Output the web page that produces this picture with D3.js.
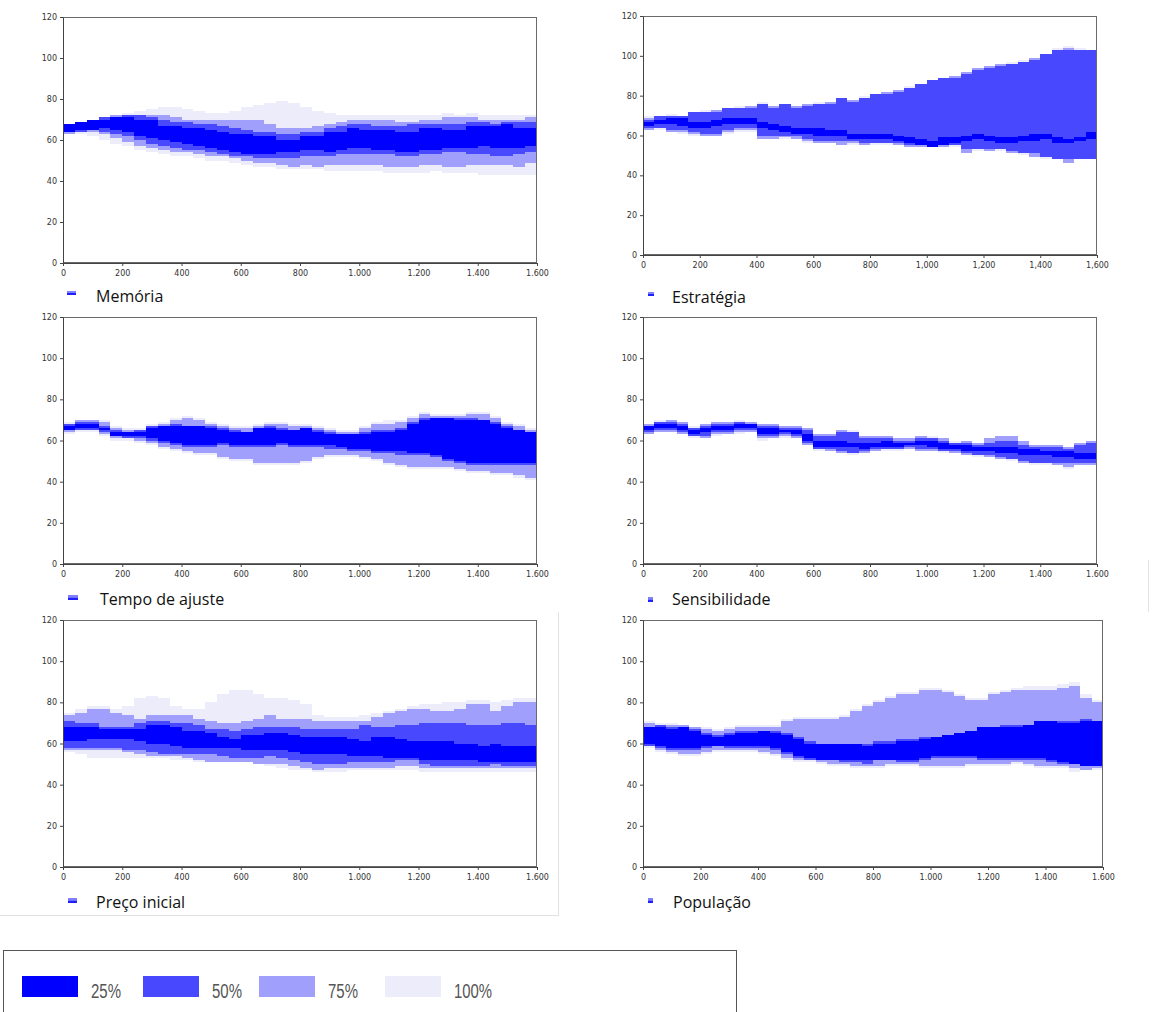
<!DOCTYPE html>
<html><head><meta charset="utf-8">
<script src="https://cdn.jsdelivr.net/npm/d3@7"></script>
<style>body{margin:0;background:#fff}svg{display:block}</style>
</head><body><svg id="c" width="1153" height="1012"></svg>
<script>
// ---------- DATA ----------
const time = [0,40,80,120,160,200,240,280,320,360,400,440,480,520,560,600,640,680,720,760,800,840,880,920,960,1000,1040,1080,1120,1160,1200,1240,1280,1320,1360,1400,1440,1480,1520,1560];
const timeEnd = 1600;
const xTickValues = [0,200,400,600,800,1000,1200,1400,1600];
const yTickValues = [0,20,40,60,80,100,120];
const bandLabels = ["25%","50%","75%","100%"];
const bandColors = ["#0000ff","#4848ff","#a0a0fc","#ececfb"];
const panelTitles = ["Memória","Estratégia","Tempo de ajuste","Sensibilidade","Preço inicial","População"];

// Memória
const mem_hi25 = [68,69,70,70,71,71,70,70,67,67,66,66,65,64,63,63,62,62,60,60,62,62,64,64,66,65,65,65,64,64,66,66,65,65,67,67,67,68,66,66];
const mem_lo25 = [64,65,65,66,65,64,62,61,60,59,58,57,56,55,54,53,53,53,54,54,55,55,54,55,56,56,55,55,54,54,55,55,56,56,56,57,56,56,56,57];
const mem_hi50 = [68,69,70,71,71,72,72,71,70,69,69,68,68,67,66,65,64,64,63,63,64,64,66,67,68,68,67,67,67,68,68,68,68,68,69,69,68,69,69,69];
const mem_lo50 = [64,64,65,64,63,62,60,58,57,56,55,55,54,53,52,52,51,51,51,51,52,52,52,53,53,53,53,53,52,52,53,53,54,54,53,53,52,52,53,54];
const mem_hi75 = [68,69,70,71,72,72,72,72,72,71,70,70,70,70,70,70,70,68,66,66,66,67,68,69,70,70,70,70,69,69,70,70,71,71,71,70,70,70,70,71];
const mem_lo75 = [63,64,64,63,61,59,57,56,55,54,54,53,52,52,51,50,49,49,48,47,48,47,48,48,48,48,48,47,47,47,48,48,47,47,48,48,48,48,47,49];
const mem_hi100 = [68,69,70,71,72,73,74,75,76,76,75,74,73,73,74,76,77,78,79,78,76,74,73,72,72,72,72,72,72,72,72,72,73,72,73,72,72,72,72,72];
const mem_lo100 = [63,63,62,60,58,57,55,54,53,52,52,51,50,50,49,48,47,47,46,46,46,46,45,45,45,45,45,44,44,44,44,45,44,44,44,43,43,43,43,43];

// Estratégia
const est_hi25 = [67,68,69,69,67,67,68,69,69,69,67,66,65,64,64,64,63,63,61,61,61,61,60,59,58,57,59,59,60,61,60,59,59,60,61,61,59,58,59,62];
const est_lo25 = [65,66,66,65,64,64,65,66,66,66,64,63,62,61,61,60,60,60,58,58,58,58,57,56,55,54,55,56,57,58,57,56,56,57,57,58,56,56,57,58];
const est_hi50 = [68,70,70,70,72,72,72,74,74,74,76,74,76,74,75,76,76,79,77,79,81,81,82,84,86,88,89,89,91,93,94,95,96,97,98,101,103,103,103,103];
const est_lo50 = [64,64,63,63,62,61,61,63,64,64,60,60,60,60,58,57,57,57,57,56,56,56,56,55,55,55,55,55,53,53,53,53,52,51,51,49,48,48,48,48];
const est_hi75 = [69,70,70,70,72,72,73,74,74,75,76,75,76,75,76,76,77,79,78,79,81,82,83,84,86,88,89,90,92,94,95,96,96,97,99,101,103,104,103,103];
const est_lo75 = [63,64,62,62,61,60,60,62,63,63,58,58,59,58,57,56,56,55,56,55,56,56,55,54,54,55,54,55,51,53,52,53,51,51,49,49,48,46,48,48];
const est_hi100 = [70,70,71,70,72,73,73,74,75,75,77,75,76,75,76,77,77,79,78,80,81,82,83,85,86,88,89,90,92,94,95,96,97,98,99,101,104,105,104,103];
const est_lo100 = [63,63,62,61,60,60,60,61,62,62,58,58,58,58,56,56,56,55,55,55,55,55,55,54,54,54,54,54,51,52,52,52,51,50,49,48,48,46,48,48];

// Tempo de ajuste
const tmp_hi25 = [67,68,68,66,64,64,64,66,67,67,67,67,66,65,64,64,66,66,65,65,66,64,63,63,63,63,64,64,65,68,70,71,71,70,70,70,68,66,65,64];
const tmp_lo25 = [65,66,66,65,62,62,62,61,60,59,58,58,58,59,58,58,58,58,59,58,58,58,58,57,56,56,55,55,55,54,54,53,51,50,49,49,49,49,49,49];
const tmp_hi50 = [68,69,69,67,65,64,65,67,67,68,67,67,67,66,65,64,66,67,66,65,66,65,64,63,63,64,65,65,66,69,71,71,71,71,71,70,69,67,65,64];
const tmp_lo50 = [65,65,65,64,62,61,61,60,59,58,57,57,57,58,57,57,57,57,58,57,57,57,56,56,55,55,54,54,53,53,53,52,50,49,48,48,48,48,48,48];
const tmp_hi75 = [68,70,70,69,66,65,65,67,68,70,71,70,68,67,66,66,67,68,68,67,67,66,65,64,64,66,68,68,69,71,73,72,72,72,73,73,71,68,67,65];
const tmp_lo75 = [64,65,65,63,61,61,60,59,57,56,55,54,54,52,51,51,49,49,49,49,50,52,53,53,53,52,51,49,48,47,47,47,47,46,45,45,44,44,43,42];
const tmp_hi100 = [69,70,70,70,67,66,66,68,69,71,72,71,69,68,67,67,68,69,69,68,68,67,66,65,65,67,69,70,70,72,74,73,73,73,74,74,72,69,68,66];
const tmp_lo100 = [63,64,64,62,60,60,59,58,56,55,54,53,53,51,50,50,48,48,48,48,49,51,52,52,52,51,50,48,47,46,46,46,46,45,44,44,43,43,42,41];

// Sensibilidade
const sen_hi25 = [67,68,68,67,65,66,67,67,68,68,66,66,65,65,63,60,60,60,59,59,59,60,59,59,60,60,59,58,58,57,57,57,57,56,56,55,55,55,54,54];
const sen_lo25 = [65,66,66,65,63,64,65,65,66,66,63,63,64,63,60,57,57,57,57,56,57,57,57,58,58,57,56,56,55,55,55,54,54,53,53,53,52,52,51,51];
const sen_hi50 = [67,69,69,68,66,67,68,68,69,68,67,67,66,66,65,62,62,64,64,61,61,61,60,60,61,61,60,59,59,58,59,60,60,58,57,57,57,56,58,59];
const sen_lo50 = [64,65,65,64,62,62,64,64,65,65,62,62,63,62,59,56,56,55,54,55,56,56,56,57,56,56,55,55,54,53,53,52,51,50,49,49,49,49,49,49];
const sen_hi75 = [68,69,70,69,66,68,69,69,69,69,68,68,67,67,66,63,63,65,64,62,62,62,61,61,62,61,61,59,60,59,61,62,62,60,58,58,58,57,59,60];
const sen_lo75 = [63,64,64,63,62,61,63,63,64,64,61,61,62,61,58,56,55,54,54,54,55,56,56,56,55,55,55,54,53,53,52,51,51,49,49,49,48,47,48,48];
const sen_hi100 = [68,70,70,69,67,68,69,69,70,69,68,68,67,67,66,63,63,65,65,62,62,62,61,61,62,62,61,60,60,59,61,62,62,60,58,58,58,57,59,60];
const sen_lo100 = [63,64,64,63,61,61,62,63,63,64,60,61,61,61,58,55,55,54,53,54,55,55,55,56,55,55,54,54,53,52,52,51,50,49,48,48,48,46,48,48];

// Preço inicial
const pre_hi25 = [68,68,68,67,67,67,67,69,69,68,66,66,65,63,62,64,64,65,65,64,63,63,63,63,62,61,63,63,62,61,61,61,61,60,60,59,60,59,59,59];
const pre_lo25 = [61,61,62,62,62,62,61,60,60,59,58,58,58,58,58,57,57,57,57,56,55,55,55,55,54,54,54,53,53,53,52,52,52,52,52,51,51,51,51,51];
const pre_hi50 = [71,70,70,68,68,68,70,71,71,70,70,69,67,67,66,67,68,68,68,68,67,67,67,67,67,69,68,68,69,69,70,70,70,70,69,69,69,70,70,69];
const pre_lo50 = [58,58,58,58,58,57,57,56,55,55,55,55,55,54,53,53,53,54,53,52,51,50,50,50,51,51,51,51,52,52,50,49,49,49,49,49,50,49,49,49];
const pre_hi75 = [74,75,77,77,75,74,72,74,74,74,74,72,71,70,70,71,72,74,72,72,72,71,71,71,71,71,73,75,76,77,77,76,76,77,79,79,76,78,80,80];
const pre_lo75 = [57,57,57,57,57,56,55,54,54,54,53,52,51,51,51,51,50,50,50,49,48,47,48,48,48,48,48,48,49,49,48,48,48,48,48,48,48,48,48,48];
const pre_hi100 = [75,77,78,78,77,78,82,83,82,78,77,77,80,84,86,86,84,82,82,81,79,74,73,73,73,74,75,76,77,78,79,79,80,80,81,81,80,81,82,82];
const pre_lo100 = [56,55,53,53,53,53,53,53,53,52,52,51,51,51,51,51,50,49,48,47,47,46,46,46,47,47,47,47,47,47,46,46,46,46,46,46,46,46,46,46];

// População
const pop_hi25 = [68,68,67,68,66,64,63,64,65,65,66,65,64,62,60,60,60,60,60,59,60,60,61,61,62,63,64,65,66,68,68,68,68,69,71,71,70,70,71,71];
const pop_lo25 = [60,59,58,58,58,59,59,59,59,59,59,58,56,54,53,52,52,52,52,52,52,52,52,52,53,54,54,54,54,53,53,53,53,53,53,52,51,50,49,49];
const pop_hi50 = [68,69,68,68,67,65,64,65,66,66,66,66,65,63,61,60,60,60,60,60,61,61,62,62,63,63,64,65,66,68,68,69,69,69,71,71,71,71,72,71];
const pop_lo50 = [59,58,57,57,57,58,59,58,58,58,58,57,55,53,52,52,52,51,51,50,52,52,51,51,52,53,53,53,53,52,52,52,52,52,52,51,50,50,49,49];
const pop_hi75 = [70,69,69,69,68,67,66,67,68,68,68,68,71,72,72,72,72,73,76,78,80,82,84,84,86,86,85,83,81,81,84,85,86,86,86,86,87,88,82,80];
const pop_lo75 = [59,57,56,55,55,56,57,57,57,57,56,55,53,52,52,51,50,50,49,49,49,50,50,50,49,49,49,49,50,50,50,50,51,50,49,49,49,48,47,48];
const pop_hi100 = [71,70,70,69,68,68,67,68,69,69,69,69,72,73,73,73,73,74,77,79,81,83,85,85,87,87,86,84,82,82,85,86,87,88,88,88,89,90,84,81];
const pop_lo100 = [58,56,55,54,54,55,56,56,56,56,55,54,52,51,51,50,49,49,48,48,48,49,49,49,48,48,48,48,49,49,49,49,50,49,48,48,48,46,47,47];

// ---------- BUILD ----------
const panelData = [
  {hi:[mem_hi25,mem_hi50,mem_hi75,mem_hi100], lo:[mem_lo25,mem_lo50,mem_lo75,mem_lo100]},
  {hi:[est_hi25,est_hi50,est_hi75,est_hi100], lo:[est_lo25,est_lo50,est_lo75,est_lo100]},
  {hi:[tmp_hi25,tmp_hi50,tmp_hi75,tmp_hi100], lo:[tmp_lo25,tmp_lo50,tmp_lo75,tmp_lo100]},
  {hi:[sen_hi25,sen_hi50,sen_hi75,sen_hi100], lo:[sen_lo25,sen_lo50,sen_lo75,sen_lo100]},
  {hi:[pre_hi25,pre_hi50,pre_hi75,pre_hi100], lo:[pre_lo25,pre_lo50,pre_lo75,pre_lo100]},
  {hi:[pop_hi25,pop_hi50,pop_hi75,pop_hi100], lo:[pop_lo25,pop_lo50,pop_lo75,pop_lo100]}
];
// layout (pixel geometry)
const layout = [
  {x0:63, x1:537, yt:17, yb:263, sep:".", lx:96, ly:302, sx:67, sy:291, sw:9, sh:4},
  {x0:643, x1:1097, yt:16, yb:255, sep:",", lx:672, ly:303, sx:648, sy:292, sw:6, sh:4},
  {x0:63, x1:537, yt:317, yb:564, sep:".", lx:100, ly:605, sx:68, sy:595, sw:10, sh:5},
  {x0:643, x1:1097, yt:317, yb:564, sep:".", lx:672, ly:605, sx:648, sy:597, sw:5, sh:5},
  {x0:63, x1:537, yt:620, yb:867, sep:".", lx:96, ly:908, sx:68, sy:898, sw:9, sh:5},
  {x0:643, x1:1103, yt:620, yb:867, sep:".", lx:673, ly:908, sx:648, sy:898, sw:5, sh:5}
];

const svg = d3.select("#c");
svg.append("rect").attr("width",1153).attr("height",1012).attr("fill","#fff");

// faint screenshot separators
const sepG = svg.append("g").attr("stroke","#e2e2e2").attr("stroke-width",1);
sepG.append("line").attr("x1",558.5).attr("x2",558.5).attr("y1",612).attr("y2",916);
sepG.append("line").attr("x1",0).attr("x2",558).attr("y1",915.5).attr("y2",915.5);
sepG.append("line").attr("x1",1148.5).attr("x2",1148.5).attr("y1",560).attr("y2",612);

const dotFmt = d3.formatLocale({decimal:",", thousands:".", grouping:[3], currency:["",""]}).format(",");
const commaFmt = d3.format(",");

panelData.forEach((pd, pi) => {
  const L = layout[pi];
  const x = d3.scaleLinear().domain([0, timeEnd]).range([L.x0, L.x1]);
  const y = d3.scaleLinear().domain([0, 120]).range([L.yb, L.yt]);
  const g = svg.append("g");

  g.append("rect").attr("x",L.x0).attr("y",L.yt).attr("width",L.x1-L.x0).attr("height",L.yb-L.yt).attr("fill","#fff");

  const area = d3.area().curve(d3.curveStepAfter)
    .x(d => x(d.t)).y0(d => y(d.lo)).y1(d => y(d.hi));

  for (let b = 3; b >= 0; b--) {
    const hi = pd.hi[b], lo = pd.lo[b];
    const rows = time.map((t, i) => ({t, hi: hi[i], lo: lo[i]}));
    rows.push({t: timeEnd, hi: hi[hi.length-1], lo: lo[lo.length-1]});
    g.append("path").datum(rows).attr("d", area)
      .attr("fill", bandColors[b]).attr("stroke","none")
      .attr("shape-rendering","crispEdges");
  }

  // frame
  g.append("rect").attr("x",L.x0+0.5).attr("y",L.yt+0.5)
    .attr("width",L.x1-L.x0-1).attr("height",L.yb-L.yt-1)
    .attr("fill","none").attr("stroke","#6a6a6a").attr("stroke-width",1);

  const fmt = L.sep === "," ? commaFmt : dotFmt;
  const ax = g.append("g").attr("transform",`translate(0,${L.yb})`)
    .call(d3.axisBottom(x).tickValues(xTickValues).tickFormat(fmt).tickSize(3).tickSizeOuter(0).tickPadding(4));
  const ay = g.append("g").attr("transform",`translate(${L.x0},0)`)
    .call(d3.axisLeft(y).tickValues(yTickValues).tickSize(3).tickSizeOuter(0).tickPadding(3));
  [ax, ay].forEach(a => {
    a.select(".domain").attr("stroke","#444");
    a.selectAll(".tick line").attr("stroke","#444");
    a.selectAll(".tick text").attr("fill","#333")
      .style("font-family","'DejaVu Sans', Verdana, sans-serif").style("font-size","8px");
  });

  // series label
  g.append("rect").attr("x",L.sx).attr("y",L.sy).attr("width",L.sw).attr("height",L.sh/2).attr("fill","#8080ff");
  g.append("rect").attr("x",L.sx).attr("y",L.sy+L.sh/2).attr("width",L.sw).attr("height",L.sh/2).attr("fill","#2020ff");
  g.append("text").attr("x",L.lx).attr("y",L.ly).text(panelTitles[pi])
    .attr("fill","#111").style("font-family","'Open Sans', 'Noto Sans', sans-serif").style("font-size","16px");
});

// bottom legend
const leg = svg.append("g");
leg.append("rect").attr("x",3.5).attr("y",950.5).attr("width",733).attr("height",80)
  .attr("fill","#fff").attr("stroke","#555").attr("stroke-width",1);
const legX = [22, 143, 259, 385];
bandLabels.forEach((lab, i) => {
  leg.append("rect").attr("x",legX[i]).attr("y",976).attr("width",56).attr("height",21).attr("fill",bandColors[i]);
  leg.append("text").attr("x",legX[i]+69).attr("y",998).text(lab)
    .attr("fill","#555").style("font-family","'Liberation Sans', Arial, sans-serif").style("font-size","20px")
    .attr("textLength", lab.length === 4 ? 38 : 30).attr("lengthAdjust","spacingAndGlyphs");
});
</script></body></html>
